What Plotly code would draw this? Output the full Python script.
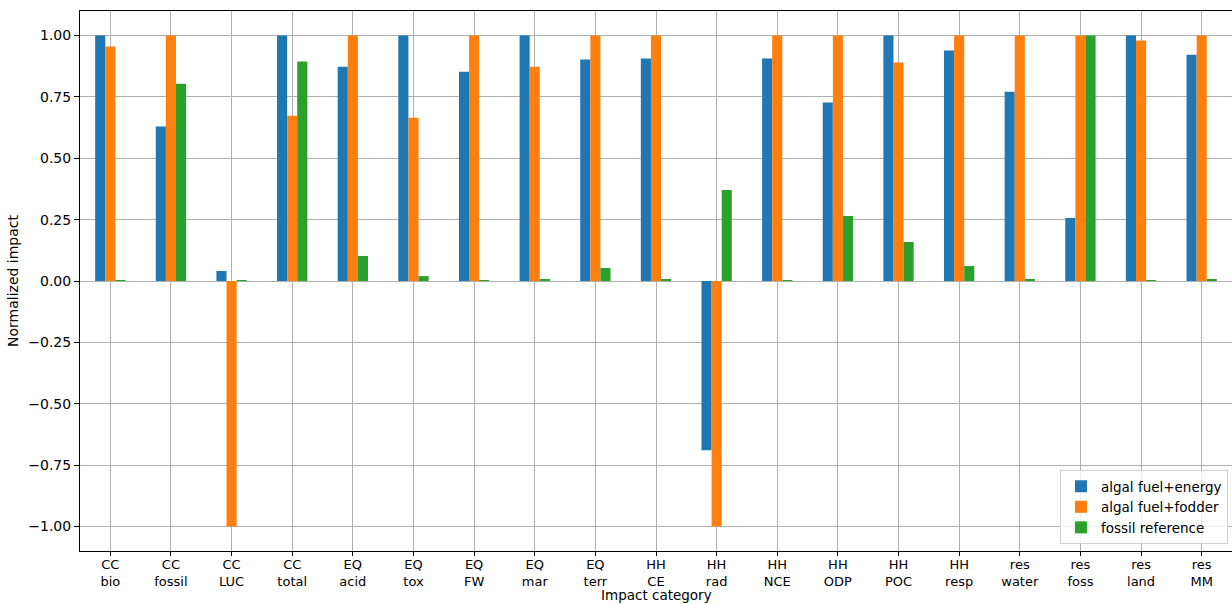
import plotly.graph_objects as go

categories = ["CC\nbio", "CC\nfossil", "CC\nLUC", "CC\ntotal", "EQ\nacid", "EQ\ntox",
              "EQ\nFW", "EQ\nmar", "EQ\nterr", "HH\nCE", "HH\nrad", "HH\nNCE",
              "HH\nODP", "HH\nPOC", "HH\nresp", "res\nwater", "res\nfoss",
              "res\nland", "res\nMM"]

algal_energy = [1.00, 0.629, 0.041, 1.00, 0.873, 1.00, 0.853, 1.00, 0.902, 0.906,
                -0.69, 0.906, 0.727, 1.00, 0.939, 0.771, 0.257, 1.00, 0.922]
algal_fodder = [0.955, 1.00, -1.00, 0.673, 1.00, 0.665, 1.00, 0.873, 1.00, 1.00,
                -1.00, 1.00, 1.00, 0.89, 1.00, 1.00, 1.00, 0.98, 1.00]
fossil_ref = [0.001, 0.804, 0.001, 0.894, 0.102, 0.02, 0.002, 0.008, 0.053, 0.008,
              0.371, 0.004, 0.265, 0.159, 0.061, 0.005, 1.00, 0.001, 0.005]

y_ticks = [-1.0, -0.75, -0.5, -0.25, 0.0, 0.25, 0.5, 0.75, 1.0]

series = [
    ("algal fuel+energy", algal_energy, "#1f77b4"),
    ("algal fuel+fodder", algal_fodder, "#ff7f0e"),
    ("fossil reference", fossil_ref, "#2ca02c"),
]

x_idx = list(range(len(categories)))
tick_text = [c.replace("\n", "<br>") for c in categories]

fig = go.Figure()
for name, vals, color in series:
    fig.add_trace(go.Bar(x=x_idx, y=vals, name=name, marker=dict(color=color, line=dict(width=0))))

font = dict(family="DejaVu Sans", size=14, color="#000000")

fig.update_layout(
    width=1232, height=604,
    margin=dict(l=80, r=0, t=11, b=53),
    paper_bgcolor="white", plot_bgcolor="white",
    barmode="group", bargap=0.5, bargroupgap=0,
    font=font,
    showlegend=True,
    legend=dict(x=0.9965, y=0.013, xanchor="right", yanchor="bottom",
                bgcolor="rgba(255,255,255,0.8)", bordercolor="#d0d0d0", borderwidth=1,
                font=dict(family="DejaVu Sans", size=13.5), tracegroupgap=0,
                itemsizing="constant"),
    xaxis=dict(
        range=[-0.5, 18.5], tickmode="array", tickvals=x_idx, ticktext=tick_text,
        tickfont=dict(size=13), automargin=False, ticklabelstandoff=-3,
        showgrid=True, gridcolor="#b0b0b0", gridwidth=1,
        showline=True, linecolor="black", linewidth=1, mirror=True,
        ticks="outside", ticklen=4, tickcolor="black",
        zeroline=False,
    ),
    yaxis=dict(
        range=[-1.1, 1.1], tickmode="array", tickvals=y_ticks, tickformat=".2f",
        automargin=False,
        showgrid=True, gridcolor="#b0b0b0", gridwidth=1,
        showline=True, linecolor="black", linewidth=1, mirror=False,
        ticks="outside", ticklen=5, tickcolor="black",
        title=dict(text="Normalized impact", standoff=6, font=dict(size=14)),
        zeroline=False,
    ),
    annotations=[
        dict(text="Impact category", xref="paper", yref="paper", x=0.5, y=-0.0981,
             xanchor="center", yanchor="bottom", showarrow=False, borderpad=0,
             font=dict(family="DejaVu Sans", size=13.5, color="#000000")),
    ],
)

fig.write_html("out.html")
